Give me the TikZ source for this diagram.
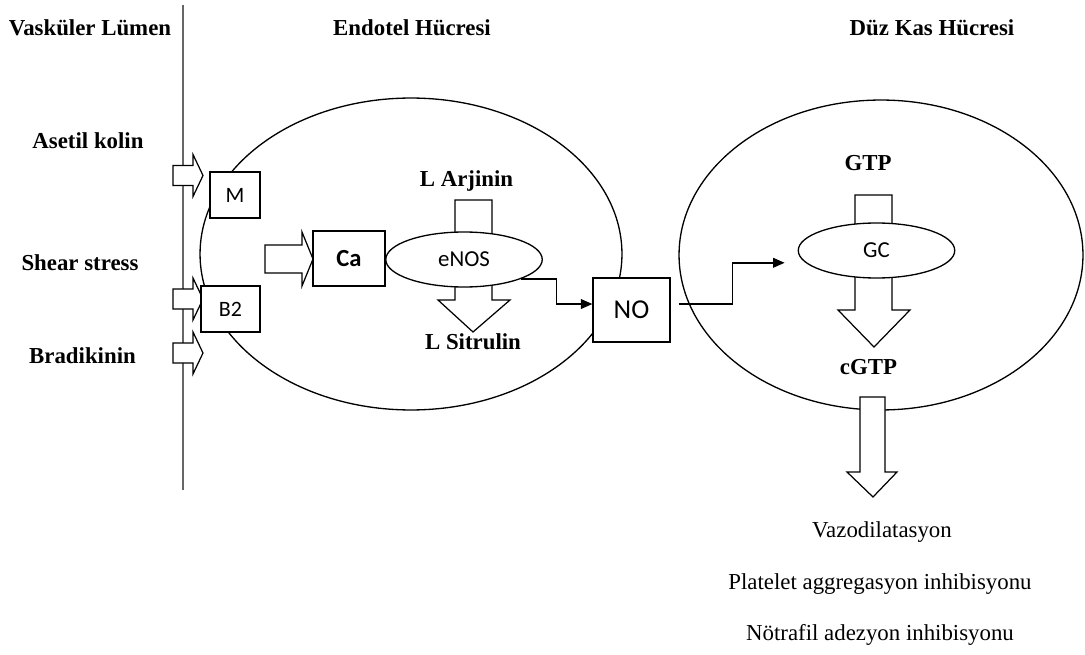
\documentclass[tikz,border=0pt]{standalone}
\usepackage{fontspec}
\setmainfont{Liberation Serif}
\newfontfamily\calibri{Carlito}
\usetikzlibrary{shapes.geometric, arrows.meta, positioning}

\begin{document}
\begin{tikzpicture}[
    x=0.02cm, y=-0.02cm,
    title/.style={font=\fontsize{13}{15}\selectfont\bfseries},
    effect/.style={font=\fontsize{13}{15}\selectfont},
    box/.style={rectangle, draw, fill=white, line width=0.75pt, inner sep=0pt,
                font=\calibri\fontsize{12.5}{14}\selectfont},
    enzyme/.style={ellipse, draw, fill=white, line width=0.75pt, inner sep=0pt,
                minimum width=3.13cm, minimum height=1.1cm, font=\calibri\fontsize{13}{15}\selectfont},
    cell/.style={ellipse, draw, line width=0.75pt, inner sep=0pt},
    blockarrow/.style={draw, fill=white, line width=0.7pt, line join=miter},
    link/.style={-{Triangle[length=6.5pt, width=5.5pt]}, line width=0.8pt}
]
    \useasboundingbox (0,0) rectangle (1085,655);
    \fill[white] (0,0) rectangle (1085,655);

    % cells
    \node[cell, minimum width=8.44cm, minimum height=6.24cm] (endo) at (411,254) {};
    \node[cell, minimum width=8.08cm, minimum height=6.2cm] (smooth) at (881,255) {};
    \draw[gray!80!black, line width=1.1pt] (183,5) -- (183,490);

    % headings
    \node[title] (lumen)   at (90,28)  {Vasküler Lümen};
    \node[title] (endotel) at (412,28) {Endotel Hücresi};
    \node[title] (duzkas)  at (932,28) {Düz Kas Hücresi};

    % stimuli
    \node[title] (asetil) at (88,141)   {Asetil kolin};
    \node[title] (shear)  at (80,263)   {Shear stress};
    \node[title] (bradi)  at (82.5,356) {Bradikinin};
    \foreach \y in {175.5,299,353}
        \draw[blockarrow] (173,\y-10) -- (193,\y-10) -- (193,\y-21) -- (203,\y)
            -- (193,\y+21) -- (193,\y+10) -- (173,\y+10) -- cycle;

    % endothelial cell
    \draw[blockarrow] (265,245) -- (302,245) -- (302,232) -- (313,259) -- (302,286)
        -- (302,273) -- (265,273) -- cycle;
    \draw[blockarrow] (455,200) -- (492,200) -- (492,300) -- (510,300) -- (473,332)
        -- (438,300) -- (455,300) -- cycle;
    \node[box, minimum width=1cm, minimum height=0.92cm] (M) at (235,195) {M};
    \node[box, minimum width=1.18cm, minimum height=0.92cm] (B2) at (230.5,309) {B2};
    \node[box, minimum width=1.44cm, minimum height=1.1cm,
          font=\calibri\fontsize{14}{16}\selectfont\bfseries] (Ca) at (349,258.5) {Ca};
    \node[enzyme] (eNOS) at (464,259.5) {eNOS};
    \node[title] (larj) at (466.5,181) {L Arjinin};
    \node[title] (lsit) at (473,342)   {L Sitrulin};
    \node[box, minimum width=1.54cm, minimum height=1.28cm,
          font=\calibri\fontsize{15.5}{17}\selectfont] (NO) at (631.5,310) {NO};

    % smooth muscle cell
    \draw[blockarrow] (855,195) -- (892,195) -- (892,310) -- (910,310) -- (874,347)
        -- (838,310) -- (855,310) -- cycle;
    \node[enzyme] (GC) at (876.5,250.5) {GC};
    \node[title] (gtp)  at (868,163)   {GTP};
    \node[title] (cgtp) at (868.5,367) {cGTP};
    \draw[blockarrow] (860,397) -- (885,397) -- (885,472) -- (897,472) -- (873,497)
        -- (847,472) -- (860,472) -- cycle;

    \draw[link] (eNOS.-19) -- ++(36,0) |- ([yshift=3.4pt]NO.west);
    \draw[link] ([xshift=4.5pt, yshift=3.4pt]NO.east) -- ++(54,0)
        |- ([xshift=-7.4pt, yshift=-7pt]GC.west);

    % effects
    \node[effect] (vazo)     at (882,532) {Vazodilatasyon};
    \node[effect] (platelet) at (880,584) {Platelet aggregasyon inhibisyonu};
    \node[effect] (notrafil) at (880,635) {Nötrafil adezyon inhibisyonu};
\end{tikzpicture}
\end{document}
